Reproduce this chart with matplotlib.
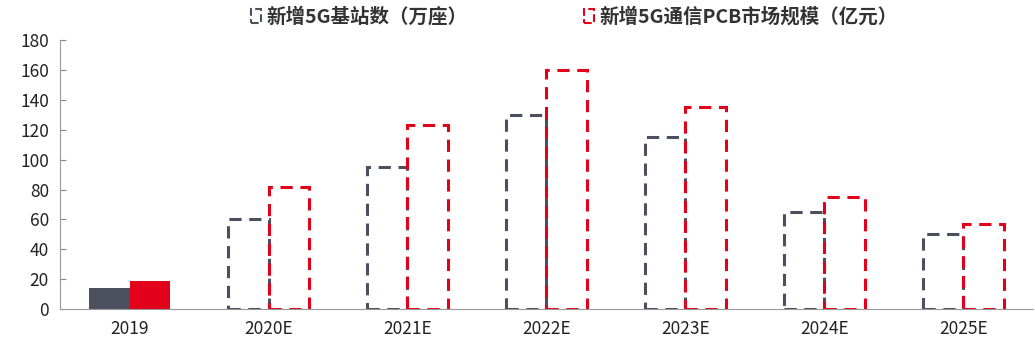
import matplotlib.pyplot as plt
from matplotlib.patches import Patch
import numpy as np

plt.rcParams['font.family'] = ['Noto Sans CJK SC', 'DejaVu Sans']

# 数据
years = ['2019', '2020E', '2021E', '2022E', '2023E', '2024E', '2025E']
base_station = [14, 60, 95, 130, 115, 65, 50]      # 新增5G基站数（万座）
pcb_market = [19, 82, 123, 160, 135, 75, 57]       # 新增5G通信PCB市场规模（亿元）

gray = '#4b4f5e'
red = '#e2001a'

fig = plt.figure(figsize=(10.35, 3.45), dpi=100)
ax = fig.add_axes([0.058, 0.104, 0.94, 0.78])

x = np.arange(len(years))
w = 0.29

for i in range(len(years)):
    if i == 0:
        ax.bar(x[i] - w / 2, base_station[i], w, color=gray, edgecolor=gray, linewidth=0)
        ax.bar(x[i] + w / 2, pcb_market[i], w, color=red, edgecolor=red, linewidth=0)
    else:
        ax.bar(x[i] - w / 2, base_station[i], w, facecolor='none', edgecolor=gray,
               linewidth=2.2, linestyle=(0, (4, 2.5)))
        ax.bar(x[i] + w / 2, pcb_market[i], w, facecolor='none', edgecolor=red,
               linewidth=2.2, linestyle=(0, (4, 2.5)))

ax.set_xlim(-0.5, 6.5)
ax.set_ylim(0, 180)
ax.set_yticks(range(0, 181, 20))
ax.set_xticks(x)
ax.set_xticklabels(years)
ax.tick_params(axis='y', direction='in', length=4, color='#888888', labelsize=12.5, labelcolor='#222222', pad=8)
ax.tick_params(axis='x', length=0, labelsize=12.5, labelcolor='#222222', pad=8)

for s in ['top', 'right']:
    ax.spines[s].set_visible(False)
ax.spines['left'].set_color('#999999')
ax.spines['bottom'].set_color('#999999')

handles = [Patch(facecolor='none', edgecolor=gray, linewidth=1.5, linestyle='--'),
           Patch(facecolor='none', edgecolor=red, linewidth=1.5, linestyle='--')]
fig.legend(handles, ['新增5G基站数（万座）', '新增5G通信PCB市场规模（亿元）'],
           loc='upper center', bbox_to_anchor=(0.555, 1.03), ncol=2, frameon=False,
           prop={'size': 14, 'weight': 'bold'}, labelcolor='#333333',
           handlelength=0.5, handletextpad=0.3, columnspacing=6.0)

plt.savefig('out.png', dpi=100)
